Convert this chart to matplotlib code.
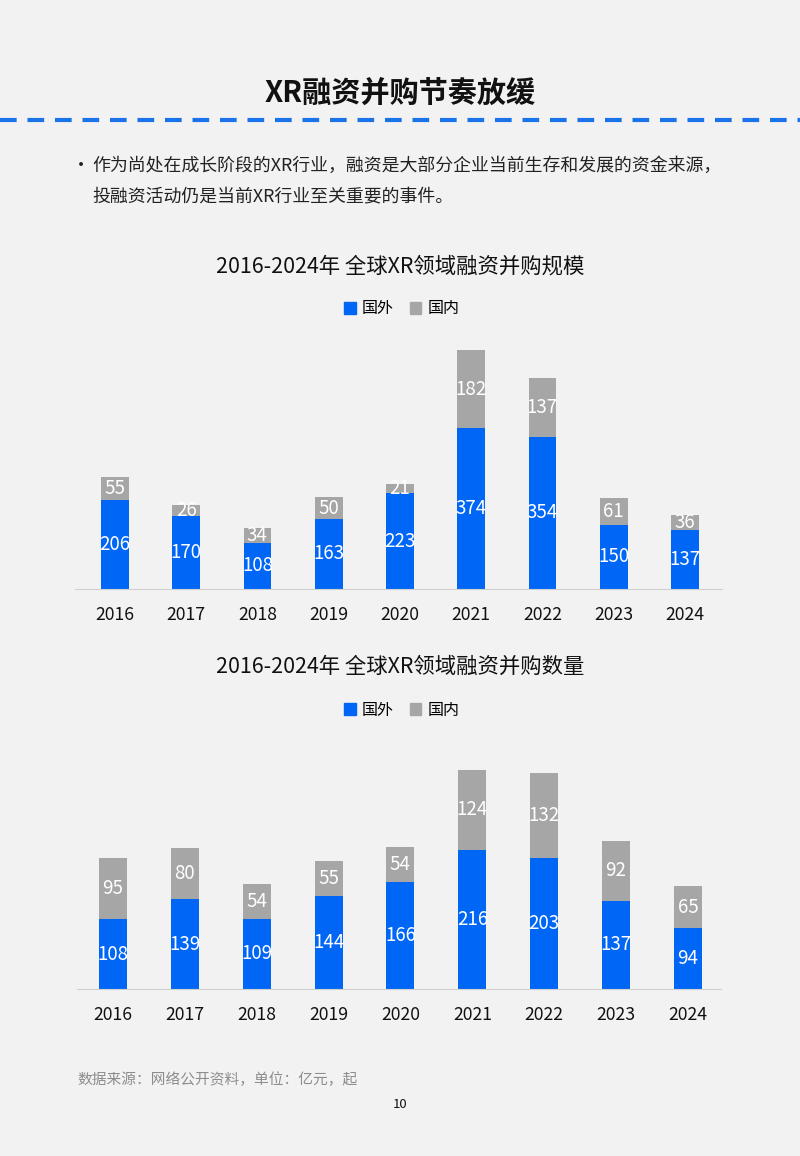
import matplotlib
matplotlib.use("Agg")
import matplotlib.pyplot as plt
import numpy as np
from matplotlib.lines import Line2D
from matplotlib.patches import Patch

plt.rcParams['font.family'] = ['Noto Sans CJK SC', 'DejaVu Sans']

# ---- data ----
years = ["2016", "2017", "2018", "2019", "2020", "2021", "2022", "2023", "2024"]
scale_foreign = [206, 170, 108, 163, 223, 374, 354, 150, 137]
scale_domestic = [55, 26, 34, 50, 21, 182, 137, 61, 36]
count_foreign = [108, 139, 109, 144, 166, 216, 203, 137, 94]
count_domestic = [95, 80, 54, 55, 54, 124, 132, 92, 65]

BLUE = "#0066f5"
GREY = "#a6a6a6"
BG = "#f2f2f2"

W, H = 800, 1156
fig = plt.figure(figsize=(W / 100, H / 100), dpi=100, facecolor=BG)


def px_axes(left, top, right, bottom):
    return fig.add_axes([left / W, 1 - bottom / H, (right - left) / W, (bottom - top) / H])


# header
fig.text(400 / W, 1 - 93 / H, "XR融资并购节奏放缓", ha="center", va="center",
         fontsize=21, fontweight="bold", color="#111111")
fig.add_artist(Line2D([0, 1], [1 - 120 / H] * 2, color="#1a73e8", lw=3,
                      dashes=(4, 2.6), transform=fig.transFigure))
fig.text(72 / W, 1 - 166 / H, "•", ha="left", va="center", fontsize=13, color="#222222")
fig.text(92 / W, 1 - 166 / H, "作为尚处在成长阶段的XR行业，融资是大部分企业当前生存和发展的资金来源，",
         ha="left", va="center", fontsize=12.9, color="#222222")
fig.text(92 / W, 1 - 197 / H, "投融资活动仍是当前XR行业至关重要的事件。",
         ha="left", va="center", fontsize=12.9, color="#222222")


def stacked(ax, foreign, domestic, ymax, xlim, legend_y):
    x = np.arange(len(years))
    ax.set_facecolor(BG)
    ax.bar(x, foreign, width=0.39, color=BLUE, zorder=2)
    ax.bar(x, domestic, width=0.39, bottom=foreign, color=GREY, zorder=2)
    for i in range(len(years)):
        ax.text(x[i], foreign[i] / 2, str(foreign[i]), ha="center", va="center",
                color="white", fontsize=13.5)
        ax.text(x[i], foreign[i] + domestic[i] / 2, str(domestic[i]), ha="center",
                va="center", color="white", fontsize=13.5)
    ax.set_ylim(0, ymax)
    ax.set_xlim(*xlim)
    ax.set_xticks(x)
    ax.set_xticklabels(years, fontsize=12.7, color="#111111")
    ax.tick_params(axis="x", length=0, pad=12)
    ax.set_yticks([])
    for s in ["top", "right", "left"]:
        ax.spines[s].set_visible(False)
    ax.spines["bottom"].set_color("#d0d0d0")
    handles = [Patch(color=BLUE, label="国外"), Patch(color=GREY, label="国内")]
    fig.legend(handles=handles, loc="center", bbox_to_anchor=(402 / W, 1 - legend_y / H),
               ncol=2, frameon=False, fontsize=11.5, handlelength=0.7, handleheight=0.7,
               columnspacing=1.0, handletextpad=0.4)


ax1 = px_axes(75, 331, 722, 589)
stacked(ax1, scale_foreign, scale_domestic, 600, (-0.56, 8.52), 309)
fig.text(400 / W, 1 - 267 / H, "2016-2024年 全球XR领域融资并购规模", ha="center", va="center",
         fontsize=15.4, color="#111111")

ax2 = px_axes(77, 731, 721, 989)
stacked(ax2, count_foreign, count_domestic, 400, (-0.5, 8.46), 710)
fig.text(400 / W, 1 - 667 / H, "2016-2024年 全球XR领域融资并购数量", ha="center", va="center",
         fontsize=15.4, color="#111111")

fig.text(77 / W, 1 - 1080 / H, "数据来源：网络公开资料，单位：亿元，起", ha="left", va="center",
         fontsize=10.6, color="#8c8c8c")
fig.text(400 / W, 1 - 1105 / H, "10", ha="center", va="center", fontsize=9.5, color="#111111")

fig.savefig("out.png", dpi=100, facecolor=BG)
